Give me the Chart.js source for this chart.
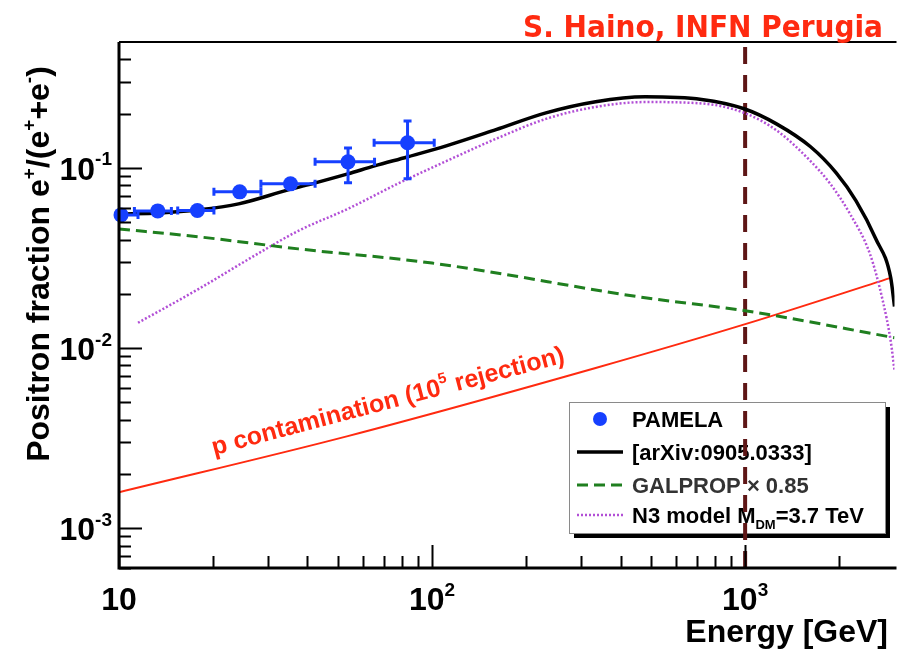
<!DOCTYPE html>
<html>
<head>
<meta charset="utf-8">
<title>Positron fraction</title>
<script src="https://cdn.jsdelivr.net/npm/chart.js@4.4.1/dist/chart.umd.min.js"></script>
<style>
  html, body { margin: 0; padding: 0; background: #fff; overflow: hidden; }
  #wrap { width: 899px; height: 649px; overflow: hidden; }
  canvas { display: block; }
</style>
</head>
<body>
<div id="wrap"><canvas id="fraction" width="902" height="649"></canvas></div>
<script>
// --- Data ---
// PAMELA positron fraction points (energy in GeV, bin edges, stat errors)
const pamelaE   = [10.15, 13.3, 17.8, 24.3, 35.3, 53.9, 83.5];
const pamelaF   = [0.0548, 0.0577, 0.0580, 0.0736, 0.0815, 0.108, 0.138];
const pamelaElo = [9.0, 11.2, 15.4, 20.1, 28.4, 42.3, 65.3];
const pamelaEhi = [11.5, 14.7, 20.1, 28.4, 42.3, 65.5, 101.6];
const pamelaFlo = [0.0535, 0.0565, 0.0567, 0.0710, 0.0785, 0.0826, 0.0869];
const pamelaFhi = [0.0561, 0.0589, 0.0593, 0.0762, 0.0845, 0.129, 0.182];

// [arXiv:0905.0333] total fraction
const modelE = [10, 13.5, 18.0, 24.1, 34.7, 42.4, 53.8, 65.5, 83.3, 111, 160, 231, 333, 479, 726, 993, 1263, 1618, 1954, 2261, 2616, 2918, 3000];
const modelF = [0.0555, 0.0562, 0.0585, 0.0631, 0.0755, 0.0826, 0.0926, 0.1026, 0.115, 0.1325, 0.163, 0.202, 0.233, 0.248, 0.240, 0.213, 0.175, 0.131, 0.0938, 0.0656, 0.0403, 0.0245, 0.017];

// GALPROP secondary background x 0.85
const galpropE = [10, 18, 37.4, 100, 479, 1000, 3000];
const galpropF = [0.0458, 0.0414, 0.0355, 0.0296, 0.0190, 0.0161, 0.0114];

// N3 dark matter model, M_DM = 3.7 TeV
const n3E = [11.5, 18.0, 26.0, 37.4, 53.8, 77.5, 111, 160, 231, 333, 479, 726, 993, 1263, 1618, 1871, 2163, 2504, 2754, 2918, 3000];
const n3F = [0.0138, 0.0213, 0.0312, 0.0447, 0.0592, 0.0815, 0.109, 0.145, 0.187, 0.218, 0.232, 0.228, 0.202, 0.161, 0.109, 0.0815, 0.0555, 0.0333, 0.0182, 0.0109, 0.0075];

// proton contamination, 10^5 rejection
const protonE = [10, 53.8, 333, 1007, 2918];
const protonF = [0.00158, 0.00324, 0.00774, 0.0136, 0.0245];

// 1 TeV marker
const cutE = [1000, 1000];
const cutF = [6e-4, 0.5];

// axis labels
const xTickValues = [10, 100, 1000];
const xTickLabels = ['10', '10^2', '10^3'];
const yTickValues = [0.1, 0.01, 0.001];
const yTickLabels = ['10^-1', '10^-2', '10^-3'];

const legendLabels = ['PAMELA', '[arXiv:0905.0333]', 'GALPROP \u00d7 0.85', 'N3 model M_DM=3.7 TeV'];

// --- Styles ---
const BLUE = '#1640ff';
const RED = '#ff2a10';
const FONT = '"Liberation Sans", Arial, Helvetica, sans-serif';

const pts = (xs, ys) => xs.map((v, i) => ({ x: v, y: ys[i] }));

// --- Rich text helpers (superscript / subscript) ---
function parseRich(str) {
  // "10^2" -> [['10','n'],['2','sup']], "M_DM=..." -> sub
  const m = str.match(/^(.*?)([\^_])([^=\s]+)(.*)$/);
  if (!m) return [[str, 'n']];
  const out = [];
  if (m[1]) out.push([m[1], 'n']);
  out.push([m[3], m[2] === '^' ? 'sup' : 'sub']);
  if (m[4]) out.push([m[4], 'n']);
  return out;
}
function segFont(size, kind) {
  return 'bold ' + (kind === 'n' ? size : Math.round(size * 0.6)) + 'px ' + FONT;
}
function richWidth(ctx, segs, size) {
  let w = 0;
  segs.forEach(([t, k]) => { ctx.font = segFont(size, k); w += ctx.measureText(t).width; });
  return w;
}
function drawRich(ctx, segs, x, y, size, align) {
  const w = richWidth(ctx, segs, size);
  let cx = align === 'right' ? x - w : align === 'center' ? x - w / 2 : x;
  ctx.textAlign = 'left';
  ctx.textBaseline = 'alphabetic';
  segs.forEach(([t, k]) => {
    ctx.font = segFont(size, k);
    const dy = k === 'sup' ? -size * 0.45 : k === 'sub' ? size * 0.25 : 0;
    ctx.fillText(t, cx, y + dy);
    cx += ctx.measureText(t).width;
  });
  return w;
}

// --- Error bars for PAMELA ---
function drawErrorBars(chart) {
  const { ctx, chartArea: a } = chart;
  const x = chart.scales.x, y = chart.scales.y;
  ctx.save();
  ctx.beginPath();
  ctx.rect(a.left, a.top, a.right - a.left, a.bottom - a.top);
  ctx.clip();
  ctx.strokeStyle = BLUE;
  ctx.lineWidth = 3;
  pamelaE.forEach((e, i) => {
    const px = x.getPixelForValue(e), py = y.getPixelForValue(pamelaF[i]);
    const x1 = x.getPixelForValue(pamelaElo[i]), x2 = x.getPixelForValue(pamelaEhi[i]);
    const y1 = y.getPixelForValue(pamelaFhi[i]), y2 = y.getPixelForValue(pamelaFlo[i]);
    ctx.beginPath();
    ctx.moveTo(x1, py); ctx.lineTo(x2, py);
    ctx.moveTo(px, y1); ctx.lineTo(px, y2);
    ctx.moveTo(x1, py - 4); ctx.lineTo(x1, py + 4);
    ctx.moveTo(x2, py - 4); ctx.lineTo(x2, py + 4);
    ctx.moveTo(px - 4, y1); ctx.lineTo(px + 4, y1);
    ctx.moveTo(px - 4, y2); ctx.lineTo(px + 4, y2);
    ctx.stroke();
  });
  ctx.restore();
}

// --- Legend box ---
function drawLegend(chart) {
  const ctx = chart.ctx;
  const ds = chart.data.datasets;
  const x0 = 569, y0 = 402, w = 316, h = 131;
  ctx.save();
  ctx.fillStyle = '#000';
  ctx.fillRect(x0 + 5, y0 + 5, w, h);
  ctx.fillStyle = '#fff';
  ctx.fillRect(x0, y0, w, h);
  ctx.strokeStyle = '#8a8a8a';
  ctx.lineWidth = 1;
  ctx.strokeRect(x0 + 0.5, y0 + 0.5, w, h);

  const rows = [419, 452, 485, 515];
  rows.forEach((cy, di) => {
    const d = ds[di];
    if (di === 0) {
      ctx.fillStyle = d.backgroundColor;
      ctx.beginPath();
      ctx.arc(600, cy, 7, 0, Math.PI * 2);
      ctx.fill();
    } else {
      ctx.strokeStyle = d.borderColor;
      ctx.lineWidth = d.borderWidth;
      ctx.setLineDash(d.borderDash || []);
      ctx.beginPath();
      ctx.moveTo(577, cy); ctx.lineTo(623, cy);
      ctx.stroke();
      ctx.setLineDash([]);
    }
    ctx.fillStyle = di === 2 ? '#333' : '#000';
    drawRich(ctx, parseRich(legendLabels[di]), 632, cy + 8, 22, 'left');
  });
  ctx.restore();
}

// --- Axes, ticks and text ---
function drawAxes(chart) {
  const { ctx, chartArea: a } = chart;
  const x = chart.scales.x, y = chart.scales.y;
  ctx.save();
  ctx.strokeStyle = '#000';
  ctx.lineWidth = 2;
  ctx.beginPath();
  // ticks point into the frame, major 23px, minor 12px
  for (let d = 10; d <= 1000; d *= 10) {
    for (let m = 1; m < 10; m++) {
      const v = d * m;
      if (v >= x.max) break;
      const px = Math.round(x.getPixelForValue(v)) + 0.5;
      ctx.moveTo(px, a.bottom);
      ctx.lineTo(px, a.bottom - (m === 1 ? 23 : 12));
    }
  }
  for (let e = -4; e <= -1; e++) {
    for (let m = 1; m < 10; m++) {
      const v = m * Math.pow(10, e);
      if (v <= y.min || v >= y.max) continue;
      const py = Math.round(y.getPixelForValue(v)) + 0.5;
      ctx.moveTo(a.left, py);
      ctx.lineTo(a.left + (m === 1 ? 23 : 12), py);
    }
  }
  ctx.stroke();

  // frame
  ctx.lineWidth = 3;
  ctx.beginPath();
  ctx.moveTo(a.left, a.top); ctx.lineTo(a.left, a.bottom + 1.5);
  ctx.moveTo(a.left - 1.5, a.bottom); ctx.lineTo(a.right + 2, a.bottom);
  ctx.stroke();
  ctx.lineWidth = 2;
  ctx.beginPath();
  ctx.moveTo(a.left, a.top); ctx.lineTo(a.right + 2, a.top);
  ctx.stroke();

  // tick labels
  ctx.fillStyle = '#000';
  xTickValues.forEach((v, i) => {
    const segs = xTickLabels[i].split('^').map((t, j) => [t, j ? 'sup' : 'n']);
    drawRich(ctx, segs, x.getPixelForValue(v), 610, 32, 'center');
  });
  yTickValues.forEach((v, i) => {
    const segs = yTickLabels[i].split('^').map((t, j) => [t, j ? 'sup' : 'n']);
    drawRich(ctx, segs, 112, y.getPixelForValue(v) + 12, 32, 'right');
  });

  // axis titles
  drawRich(ctx, [['Energy [GeV]', 'n']], 888, 642, 32, 'right');
  ctx.save();
  ctx.translate(49, 264);
  ctx.rotate(-Math.PI / 2);
  drawRich(ctx, [['Positron fraction e', 'n'], ['+', 'sup'], ['/(e', 'n'], ['+', 'sup'],
                 ['+e', 'n'], ['-', 'sup'], [')', 'n']], 0, 0, 32, 'center');
  ctx.restore();

  // author line
  ctx.fillStyle = RED;
  ctx.font = 'bold 30px "DejaVu Sans", sans-serif';
  const author = 'S. Haino, INFN Perugia';
  const aw = ctx.measureText(author).width;
  ctx.save();
  ctx.translate(523, 37);
  ctx.scale(360 / aw, 1);
  ctx.textAlign = 'left';
  ctx.fillText(author, 0, 0);
  ctx.restore();

  // label along the proton contamination line
  ctx.save();
  ctx.translate(x.getPixelForValue(20.1), y.getPixelForValue(0.00254));
  ctx.rotate(-14.8 * Math.PI / 180);
  drawRich(ctx, [['p contamination (10', 'n'], ['5', 'sup'], [' rejection)', 'n']], 0, 0, 25, 'left');
  ctx.restore();

  ctx.restore();
}

const rootFrame = {
  id: 'rootFrame',
  beforeDatasetsDraw(chart) { drawLegend(chart); },
  beforeDatasetDraw(chart, args) { if (args.index === 0) drawErrorBars(chart); },
  afterDraw(chart) { drawAxes(chart); }
};

// --- Chart ---
new Chart(document.getElementById('fraction'), {
  type: 'scatter',
  data: {
    datasets: [
      {
        label: 'PAMELA', data: pts(pamelaE, pamelaF),
        backgroundColor: BLUE, borderColor: BLUE, pointRadius: 7.5, pointBorderWidth: 0, clip: false
      },
      {
        label: '[arXiv:0905.0333]', data: pts(modelE, modelF), showLine: true,
        borderColor: '#000', borderWidth: 3.5, pointRadius: 0, cubicInterpolationMode: 'monotone'
      },
      {
        label: 'GALPROP', data: pts(galpropE, galpropF), showLine: true,
        borderColor: '#1f7f1f', borderWidth: 3, borderDash: [11, 6], pointRadius: 0, cubicInterpolationMode: 'monotone'
      },
      {
        label: 'N3', data: pts(n3E, n3F), showLine: true,
        borderColor: '#b24fd6', borderWidth: 2.5, borderDash: [2, 2], pointRadius: 0, cubicInterpolationMode: 'monotone'
      },
      {
        label: 'p', data: pts(protonE, protonF), showLine: true,
        borderColor: RED, borderWidth: 2, pointRadius: 0, cubicInterpolationMode: 'monotone'
      },
      {
        label: '1 TeV', data: pts(cutE, cutF), showLine: true,
        borderColor: '#5e1616', borderWidth: 4, borderDash: [17, 11], pointRadius: 0
      }
    ]
  },
  options: {
    responsive: false,
    animation: false,
    devicePixelRatio: 1,
    layout: { padding: { left: 119, top: 42, right: 1, bottom: 81 } },
    plugins: { legend: { display: false }, tooltip: { enabled: false } },
    scales: {
      x: { type: 'logarithmic', min: 10, max: 3000, display: false },
      y: { type: 'logarithmic', min: 6e-4, max: 0.5, display: false }
    }
  },
  plugins: [rootFrame]
});
</script>
</body>
</html>
